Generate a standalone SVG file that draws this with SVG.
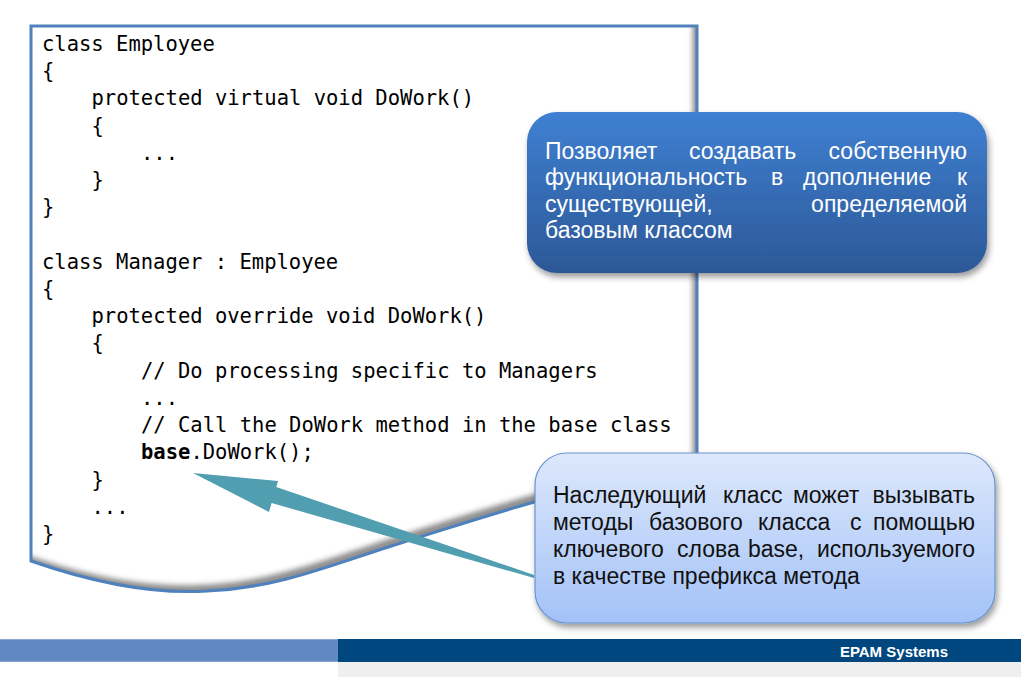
<svg xmlns="http://www.w3.org/2000/svg" width="1021" height="677" viewBox="0 0 1021 677">
<style>
.code{font-family:"DejaVu Sans Mono","Liberation Mono",monospace;font-size:20.5px;fill:#000}
.ct{font-family:"Liberation Sans",Arial,sans-serif;font-size:23px}
.w{fill:#ffffff}
.d{fill:#111111}
.e{text-anchor:end}
</style>
<defs>
<filter id="inset" x="-5%" y="-5%" width="110%" height="110%">
<feOffset in="SourceAlpha" dx="-5" dy="-7" result="off"/>
<feGaussianBlur in="off" stdDeviation="2.5" result="blur"/>
<feComposite in="SourceAlpha" in2="blur" operator="out" result="rim"/>
<feFlood flood-color="#585858" flood-opacity="0.8"/>
<feComposite in2="rim" operator="in" result="shadow"/>
<feMerge><feMergeNode in="SourceGraphic"/><feMergeNode in="shadow"/></feMerge>
</filter>
<filter id="drop" x="-10%" y="-10%" width="125%" height="130%">
<feGaussianBlur in="SourceAlpha" stdDeviation="3"/>
<feOffset dx="2" dy="4" result="b"/>
<feFlood flood-color="#000" flood-opacity="0.4"/>
<feComposite in2="b" operator="in" result="s"/>
<feMerge><feMergeNode in="s"/><feMergeNode in="SourceGraphic"/></feMerge>
</filter>
<linearGradient id="g1" x1="0" y1="0" x2="0" y2="1">
<stop offset="0" stop-color="#3f80d2"/>
<stop offset="1" stop-color="#2c5897"/>
</linearGradient>
<linearGradient id="g2" x1="0" y1="0" x2="0" y2="1">
<stop offset="0" stop-color="#dde8fb"/>
<stop offset="1" stop-color="#a3c2f8"/>
</linearGradient>
</defs>

<g id="code-frame">
<path d="M31,26 H697 V468 C600,478 500,512 410,540 C330,565 280,588 207,591 C160,594 100,585 31,561 Z" fill="#ffffff" filter="url(#inset)"/>
<path d="M31,26 H697 V468 C600,478 500,512 410,540 C330,565 280,588 207,591 C160,594 100,585 31,561 Z" fill="none" stroke="#4f81bd" stroke-width="3"/>
<text class="code" x="42" y="51">class Employee</text>
<text class="code" x="42" y="78">{</text>
<text class="code" x="91.5" y="105">protected virtual void DoWork()</text>
<text class="code" x="91.5" y="133">{</text>
<text class="code" x="141" y="160">...</text>
<text class="code" x="91.5" y="187">}</text>
<text class="code" x="42" y="214">}</text>
<text class="code" x="42" y="269">class Manager : Employee</text>
<text class="code" x="42" y="296">{</text>
<text class="code" x="91.5" y="323">protected override void DoWork()</text>
<text class="code" x="91.5" y="350">{</text>
<text class="code" x="141" y="378">// Do processing specific to Managers</text>
<text class="code" x="141" y="405">...</text>
<text class="code" x="141" y="432">// Call the DoWork method in the base class</text>
<text class="code" x="141" y="459"><tspan font-weight="bold">base</tspan>.DoWork();</text>
<text class="code" x="91.5" y="487">}</text>
<text class="code" x="91.5" y="514">...</text>
<text class="code" x="42" y="541">}</text>
</g>

<g id="connectors">
<polygon points="193,473 278,481 276.3,487 534,575 534,578 271.6,503 269,512" fill="#519eb1"/>
</g>

<g id="callout-top">
<rect x="527" y="112" width="460" height="161" rx="30" ry="30" fill="url(#g1)" filter="url(#drop)"/>
<g class="ct w">
<text x="545" y="158.5">Позволяет</text>
<text x="689" y="158.5">создавать</text>
<text x="967" y="158.5" class="e">собственную</text>
<text x="545" y="185">функциональность</text>
<text x="771" y="185">в</text>
<text x="803" y="185">дополнение</text>
<text x="967" y="185" class="e">к</text>
<text x="545" y="211.5">существующей,</text>
<text x="967" y="211.5" class="e">определяемой</text>
<text x="545" y="238">базовым классом</text>
</g>
</g>

<g id="callout-bottom">
<rect x="535" y="453" width="460" height="170" rx="32" ry="32" fill="url(#g2)" stroke="#6a93cf" stroke-width="1.2" filter="url(#drop)"/>
<g class="ct d">
<text x="553" y="503">Наследующий</text>
<text x="723" y="503">класс</text>
<text x="793" y="503">может</text>
<text x="975" y="503" class="e">вызывать</text>
<text x="553" y="530">методы</text>
<text x="649" y="530">базового</text>
<text x="758" y="530">класса</text>
<text x="850" y="530">с</text>
<text x="975" y="530" class="e">помощью</text>
<text x="553" y="557">ключевого</text>
<text x="677" y="557">слова</text>
<text x="748" y="557">base,</text>
<text x="975" y="557" class="e">используемого</text>
<text x="553" y="584">в качестве префикса метода</text>
</g>
</g>

<g id="footer">
<rect x="0" y="639" width="338" height="23" fill="#6189c1"/>
<rect x="0" y="639" width="338" height="1" fill="#86a5d2"/>
<rect x="0" y="661" width="338" height="1" fill="#86a5d2"/>
<rect x="338" y="639" width="683" height="23" fill="#00467f"/>
<rect x="338" y="662" width="683" height="15" fill="#efefef"/>
<text x="948" y="657" text-anchor="end" font-family="Liberation Sans,Arial,sans-serif" font-size="15" font-weight="bold" fill="#ffffff">EPAM Systems</text>
</g>
</svg>
